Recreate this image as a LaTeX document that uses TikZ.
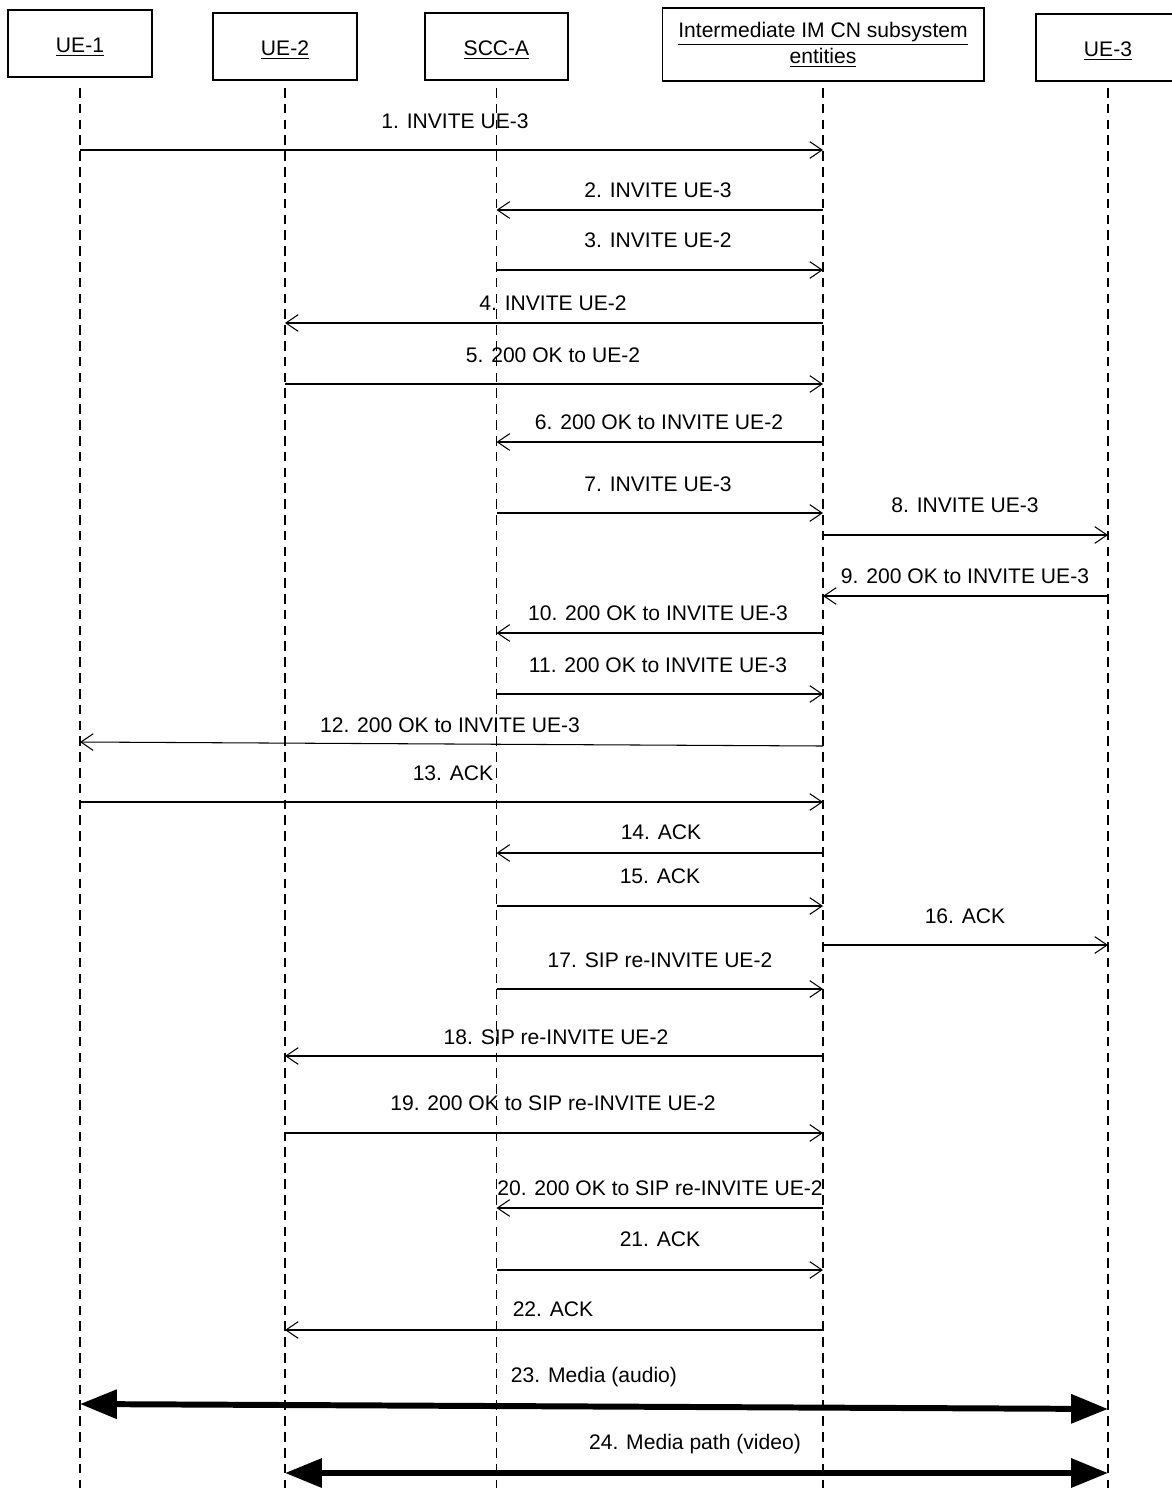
\documentclass[tikz,border=0pt]{standalone}
\usepackage{fontspec}
\setmainfont{Liberation Sans}
\usetikzlibrary{arrows.meta}

\begin{document}
\begin{tikzpicture}[x=0.02cm, y=-0.02cm,
    every node/.style={font=\fontsize{12}{15}\selectfont},
    entity/.style={draw, line width=0.6pt, minimum height=1.34cm, align=center, inner sep=0pt, text height=10pt, text depth=0pt},
    lifeline/.style={line width=0.6pt, dash pattern=on 5.5pt off 3.5pt},
    msg/.style={line width=0.6pt, -{Straight Barb[length=7pt, width=9.5pt]}},
    media/.style={line width=3.4pt, {Triangle[length=21pt, width=16pt]}-{Triangle[length=21pt, width=16pt]}},
    lbl/.style={inner sep=0pt}]
    \useasboundingbox (0, 0) rectangle (1171, 1488);
    \node[entity, minimum width=2.88cm] (ue1) at (80, 43.5) {\underline{UE-1}};
    \node[entity, minimum width=2.88cm] (ue2) at (285, 46.5) {\underline{UE-2}};
    \node[entity, minimum width=2.86cm] (scc) at (496.5, 46.5) {\underline{SCC-A}};
    \node[draw, line width=0.6pt, align=center, inner sep=0pt, minimum width=6.44cm, minimum height=1.46cm] (im) at (823, 44.5) {\underline{Intermediate IM CN subsystem}\\\underline{entities}};
    \node[entity, minimum width=2.88cm] (ue3) at (1108, 47.5) {\underline{UE-3}};
    \foreach \n in {ue1, ue2, scc, im, ue3} {
        \draw[lifeline] (\n |- 0, 88) -- (\n |- 0, 1488);
    }
    \draw[msg] (ue1 |- 0, 150) -- (im |- 0, 150);
    \node[lbl] (m1) at (455, 121) {1. INVITE UE-3};
    \draw[msg] (im |- 0, 210) -- (scc |- 0, 210);
    \node[lbl] (m2) at (658, 190) {2. INVITE UE-3};
    \draw[msg] (scc |- 0, 270) -- (im |- 0, 270);
    \node[lbl] (m3) at (658, 240) {3. INVITE UE-2};
    \draw[msg] (im |- 0, 323) -- (ue2 |- 0, 323);
    \node[lbl] (m4) at (553, 303) {4. INVITE UE-2};
    \draw[msg] (ue2 |- 0, 384) -- (im |- 0, 384);
    \node[lbl] (m5) at (553, 355) {5. 200 OK to UE-2};
    \draw[msg] (im |- 0, 442) -- (scc |- 0, 442);
    \node[lbl] (m6) at (659, 422) {6. 200 OK to INVITE UE-2};
    \draw[msg] (scc |- 0, 513) -- (im |- 0, 513);
    \node[lbl] (m7) at (658, 484) {7. INVITE UE-3};
    \draw[msg] (im |- 0, 535) -- (ue3 |- 0, 535);
    \node[lbl] (m8) at (965, 505) {8. INVITE UE-3};
    \draw[msg] (ue3 |- 0, 596) -- (im |- 0, 596);
    \node[lbl] (m9) at (965, 576) {9. 200 OK to INVITE UE-3};
    \draw[msg] (im |- 0, 633) -- (scc |- 0, 633);
    \node[lbl] (m10) at (658, 613) {10. 200 OK to INVITE UE-3};
    \draw[msg] (scc |- 0, 694) -- (im |- 0, 694);
    \node[lbl] (m11) at (658, 665) {11. 200 OK to INVITE UE-3};
    \draw[msg] (im |- 0, 746) -- (ue1 |- 0, 742);
    \node[lbl] (m12) at (450, 725) {12. 200 OK to INVITE UE-3};
    \draw[msg] (ue1 |- 0, 802) -- (im |- 0, 802);
    \node[lbl] (m13) at (453, 773) {13. ACK};
    \draw[msg] (im |- 0, 853) -- (scc |- 0, 853);
    \node[lbl] (m14) at (661, 832) {14. ACK};
    \draw[msg] (scc |- 0, 906) -- (im |- 0, 906);
    \node[lbl] (m15) at (660, 876) {15. ACK};
    \draw[msg] (im |- 0, 945) -- (ue3 |- 0, 945);
    \node[lbl] (m16) at (965, 916) {16. ACK};
    \draw[msg] (scc |- 0, 989) -- (im |- 0, 989);
    \node[lbl] (m17) at (660, 960) {17. SIP re-INVITE UE-2};
    \draw[msg] (im |- 0, 1056) -- (ue2 |- 0, 1056);
    \node[lbl] (m18) at (556, 1037) {18. SIP re-INVITE UE-2};
    \draw[msg] (ue2 |- 0, 1133) -- (im |- 0, 1133);
    \node[lbl] (m19) at (553, 1103) {19. 200 OK to SIP re-INVITE UE-2};
    \draw[msg] (im |- 0, 1208) -- (scc |- 0, 1208);
    \node[lbl] (m20) at (660, 1188) {20. 200 OK to SIP re-INVITE UE-2};
    \draw[msg] (scc |- 0, 1270) -- (im |- 0, 1270);
    \node[lbl] (m21) at (660, 1239) {21. ACK};
    \draw[msg] (im |- 0, 1330) -- (ue2 |- 0, 1330);
    \node[lbl] (m22) at (553, 1309) {22. ACK};
    \draw[media] (ue1 |- 0, 1404) -- (ue3 |- 0, 1409);
    \node[lbl] (m23) at (594, 1377) {23. Media (audio)};
    \draw[media] (ue2 |- 0, 1473) -- (ue3 |- 0, 1473);
    \node[lbl] (m24) at (695, 1444) {24. Media path (video)};
\end{tikzpicture}
\end{document}
